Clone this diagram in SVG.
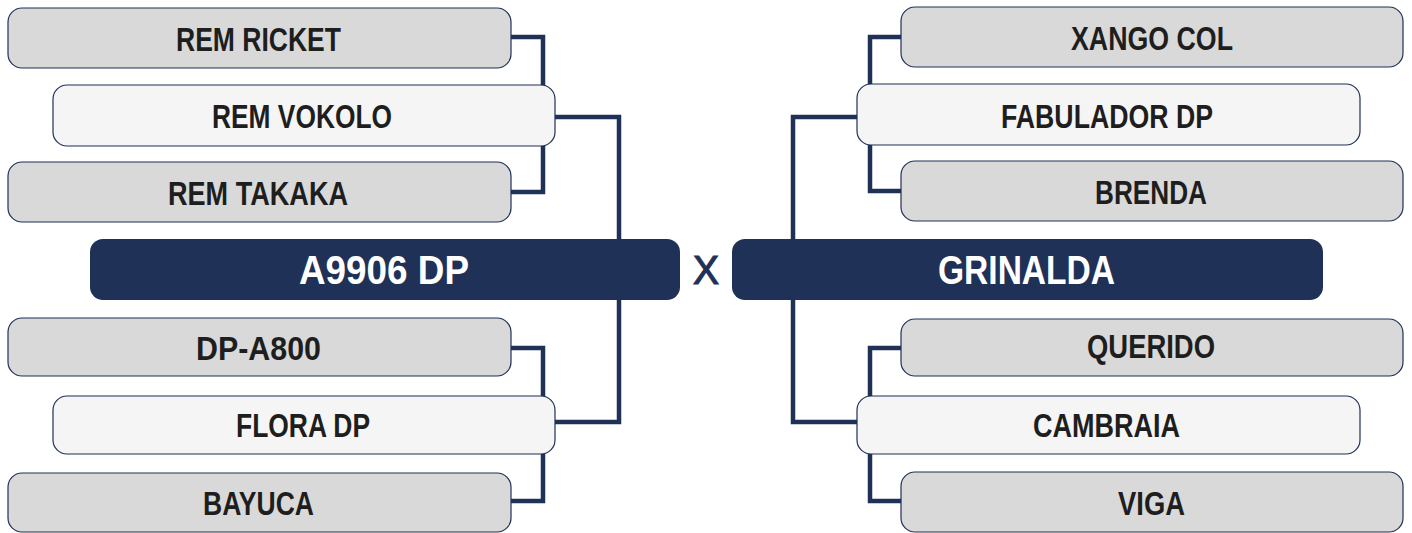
<svg xmlns="http://www.w3.org/2000/svg" width="1412" height="533" viewBox="0 0 1412 533">
<style>
.bg{fill:#ffffff}
.conn{fill:none;stroke:#1f3157;stroke-width:4.5;stroke-linejoin:miter}
.g{fill:#d9d9d9;stroke:#1f3157;stroke-width:1.2}
.l{fill:#f5f5f5;stroke:#1f3157;stroke-width:1.2}
.m{fill:#1f3157}
.t{font-family:"Liberation Sans",Arial,sans-serif;font-weight:700;font-size:33px;fill:#1e1e1e}
.mt{font-family:"Liberation Sans",Arial,sans-serif;font-weight:700;font-size:41px;fill:#ffffff}
.x{font-family:"Liberation Sans",Arial,sans-serif;font-weight:400;font-size:41px;fill:#1f3157;stroke:#1f3157;stroke-width:1.2}
</style>
<rect class="bg" x="0" y="0" width="1412" height="533"/>
<g id="connectors">
<polyline class="conn" points="511,37 543,37 543,86"/>
<polyline class="conn" points="511,192 543,192 543,146"/>
<polyline class="conn" points="555,117 619,117 619,240"/>
<polyline class="conn" points="511,348 543,348 543,397"/>
<polyline class="conn" points="511,501 543,501 543,453"/>
<polyline class="conn" points="555,422 619,422 619,300"/>
<polyline class="conn" points="901,37 870,37 870,85"/>
<polyline class="conn" points="901,191 870,191 870,145"/>
<polyline class="conn" points="857,117 793,117 793,240"/>
<polyline class="conn" points="901,348 870,348 870,397"/>
<polyline class="conn" points="901,501 870,501 870,453"/>
<polyline class="conn" points="857,422 793,422 793,300"/>
</g>
<g id="n-rem-ricket"><rect class="g" x="8" y="8" width="503" height="60" rx="14"/><text class="t" x="176" y="51" textLength="165" lengthAdjust="spacingAndGlyphs">REM RICKET</text></g>
<g id="n-rem-vokolo"><rect class="l" x="53" y="85" width="502" height="61" rx="14"/><text class="t" x="212" y="128" textLength="180" lengthAdjust="spacingAndGlyphs">REM VOKOLO</text></g>
<g id="n-rem-takaka"><rect class="g" x="8" y="162" width="503" height="60" rx="14"/><text class="t" x="168" y="205" textLength="180" lengthAdjust="spacingAndGlyphs">REM TAKAKA</text></g>
<g id="n-a9906-dp"><rect class="m" x="90" y="239" width="590" height="61" rx="13"/><text class="mt" x="299" y="284" textLength="170" lengthAdjust="spacingAndGlyphs">A9906 DP</text></g>
<g id="n-dp-a800"><rect class="g" x="8" y="318" width="503" height="58" rx="14"/><text class="t" x="196" y="360" textLength="125" lengthAdjust="spacingAndGlyphs">DP-A800</text></g>
<g id="n-flora-dp"><rect class="l" x="53" y="396" width="502" height="58" rx="14"/><text class="t" x="236" y="437" textLength="134" lengthAdjust="spacingAndGlyphs">FLORA DP</text></g>
<g id="n-bayuca"><rect class="g" x="8" y="473" width="503" height="59" rx="14"/><text class="t" x="203" y="515" textLength="111" lengthAdjust="spacingAndGlyphs">BAYUCA</text></g>
<g id="n-x"><text class="x" x="693" y="284" textLength="26" lengthAdjust="spacingAndGlyphs">X</text></g>
<g id="n-xango-col"><rect class="g" x="901" y="7" width="502" height="60" rx="14"/><text class="t" x="1071" y="50" textLength="162" lengthAdjust="spacingAndGlyphs">XANGO COL</text></g>
<g id="n-fabulador-dp"><rect class="l" x="857" y="84" width="503" height="61" rx="14"/><text class="t" x="1001" y="128" textLength="212" lengthAdjust="spacingAndGlyphs">FABULADOR DP</text></g>
<g id="n-brenda"><rect class="g" x="901" y="161" width="502" height="60" rx="14"/><text class="t" x="1095" y="204" textLength="112" lengthAdjust="spacingAndGlyphs">BRENDA</text></g>
<g id="n-grinalda"><rect class="m" x="732" y="239" width="591" height="61" rx="13"/><text class="mt" x="938" y="284" textLength="177" lengthAdjust="spacingAndGlyphs">GRINALDA</text></g>
<g id="n-querido"><rect class="g" x="901" y="319" width="502" height="57" rx="14"/><text class="t" x="1087" y="358" textLength="128" lengthAdjust="spacingAndGlyphs">QUERIDO</text></g>
<g id="n-cambraia"><rect class="l" x="857" y="396" width="503" height="58" rx="14"/><text class="t" x="1033" y="437" textLength="147" lengthAdjust="spacingAndGlyphs">CAMBRAIA</text></g>
<g id="n-viga"><rect class="g" x="901" y="472" width="502" height="60" rx="14"/><text class="t" x="1118" y="515" textLength="67" lengthAdjust="spacingAndGlyphs">VIGA</text></g>
</svg>
